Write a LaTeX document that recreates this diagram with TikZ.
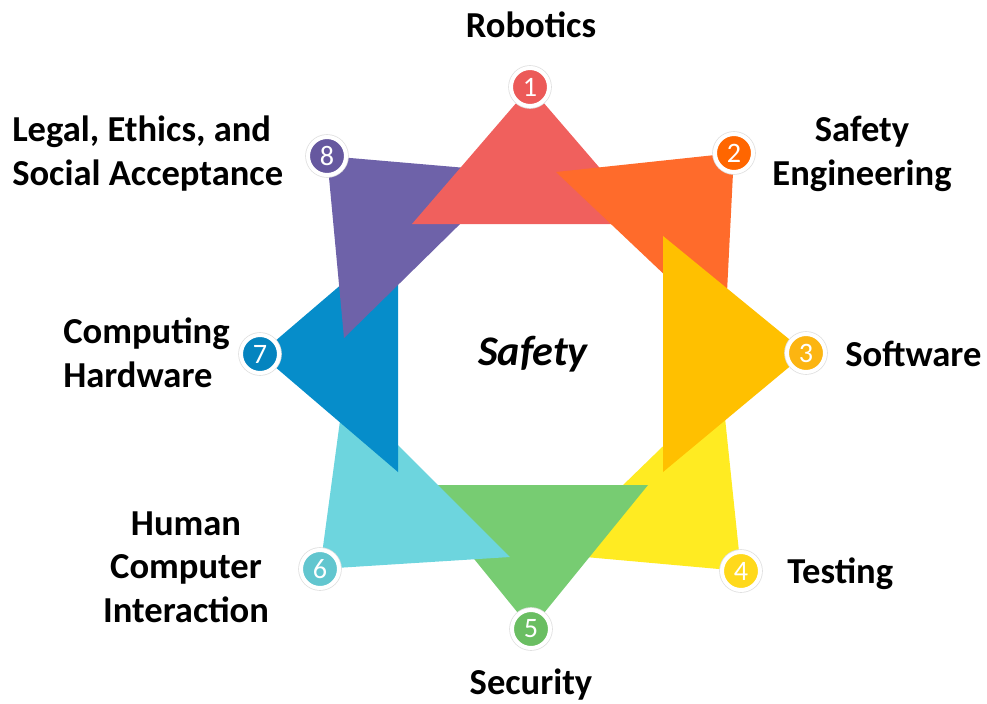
\documentclass[tikz,border=0pt]{standalone}
\usepackage{fontspec}
\setmainfont{Carlito}

\definecolor{robred}{HTML}{F0605D}
\definecolor{robredd}{HTML}{EC5A58}
\definecolor{safor}{HTML}{FF6B2B}
\definecolor{safford}{HTML}{FF6600}
\definecolor{softam}{HTML}{FFC000}
\definecolor{softamd}{HTML}{FCB511}
\definecolor{testye}{HTML}{FFEB22}
\definecolor{testyed}{HTML}{FFD91C}
\definecolor{secgr}{HTML}{77CC72}
\definecolor{secgrd}{HTML}{6ABE62}
\definecolor{hcicy}{HTML}{6DD5DE}
\definecolor{hcicyd}{HTML}{62C6CF}
\definecolor{compbl}{HTML}{068DCA}
\definecolor{compbld}{HTML}{0584BF}
\definecolor{legpu}{HTML}{6E62A9}
\definecolor{legpud}{HTML}{66589F}

\tikzset{
  num/.style={circle, draw=white, line width=0.1cm, minimum size=0.95cm, inner sep=0pt,
    text=white, font=\fontsize{20}{24}\selectfont,
    preaction={draw=black!12, line width=0.14cm}},
  lbl/.style={inner sep=0pt, font=\fontsize{26}{30.6}\selectfont\bfseries}
}

\begin{document}
\begin{tikzpicture}[x=0.025cm, y=-0.025cm]
    \useasboundingbox (0,0) rectangle (987,704);
    % triangles, drawn from the bottom of the pile up
    \fill[testye] (741,571) -- (552,554) -- (722,389) -- cycle;
    \fill[secgr] (531,629) -- (414,485) -- (648,485) -- cycle;
    \fill[hcicy] (320,569) -- (510,557) -- (344,391) -- cycle;
    \fill[compbl] (260,354) -- (398,236) -- (398,472) -- cycle;
    \fill[legpu] (327,156) -- (513,172) -- (344,338) -- cycle;
    \fill[robred] (530,87) -- (412,224) -- (648,224) -- cycle;
    \fill[safor] (734,153) -- (556,172) -- (725,332) -- cycle;
    \fill[softam] (806,353) -- (663,236) -- (663,472) -- cycle;
    % numbered circles
    \node[num, fill=robredd] (n1) at (530,87) {1};
    \node[num, fill=safford] (n2) at (734,153) {2};
    \node[num, fill=softamd] (n3) at (806,353) {3};
    \node[num, fill=testyed] (n4) at (741,571) {4};
    \node[num, fill=secgrd] (n5) at (531,629) {5};
    \node[num, fill=hcicyd] (n6) at (320,569) {6};
    \node[num, fill=compbld] (n7) at (260,354) {7};
    \node[num, fill=legpud] (n8) at (327,156) {8};
    % labels (base of a multi-line label is its last line)
    \node[lbl, anchor=base] (robotics) at (531,37) {Robotics};
    \node[lbl, anchor=base, align=center] (safeng) at (862,185) {Safety\\Engineering};
    \node[lbl, anchor=base west] (software) at (845,366) {Software};
    \node[lbl, anchor=base west] (testing) at (787,583) {Testing};
    \node[lbl, anchor=base] (security) at (531,694) {Security};
    \node[lbl, anchor=base, align=center] (hci) at (186,622) {Human\\Computer\\Interaction};
    \node[lbl, anchor=base west, align=left] (computing) at (63,387) {Computing\\Hardware};
    \node[lbl, anchor=base west, align=left] (legal) at (12,185) {Legal, Ethics, and\\Social Acceptance};
    \node[inner sep=0pt, anchor=base, font=\fontsize{30}{36}\selectfont\bfseries\itshape] (safety) at (533,365) {Safety};
\end{tikzpicture}
\end{document}
